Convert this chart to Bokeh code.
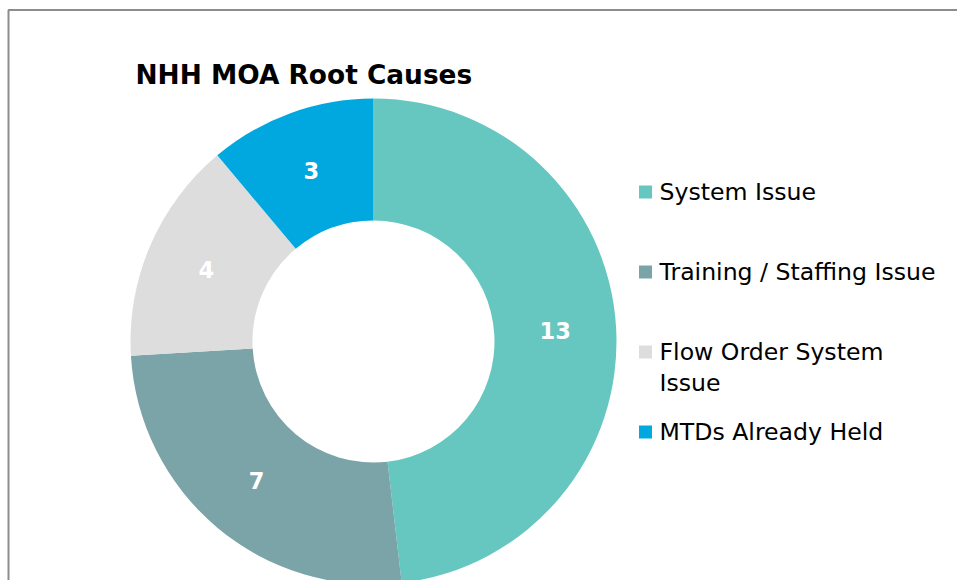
import math
from bokeh.plotting import figure
from bokeh.models import Range1d, ColumnDataSource
from bokeh.core.properties import value
from bokeh.embed import file_html
from bokeh.resources import INLINE

chart_title = "NHH MOA Root Causes"
categories = ["System Issue", "Training / Staffing Issue", "Flow Order System\nIssue", "MTDs Already Held"]
counts = [13, 7, 4, 3]
colors = ["#66C7C1", "#7BA4A9", "#DDDDDD", "#00A8DF"]

W, H = 957, 580
FONT = "DejaVu Sans"

p = figure(width=W, height=H, output_backend="svg", toolbar_location=None,
           x_range=Range1d(0, W), y_range=Range1d(0, H), min_border=0,
           x_axis_location=None, y_axis_location=None)
p.grid.visible = False
p.outline_line_color = None
p.background_fill_color = "white"
p.border_fill_color = "white"

# chart-area border (left and top edges visible)
p.line(x=[8, 8, W], y=[0, H - 9.5, H - 9.5], line_color="#8c8c8c", line_width=2)

# donut geometry (1 data unit = 1 px)
cx, cy = 373, 239
r_out, r_in = 243, 121
total = sum(counts)
starts, ends, mids = [], [], []
cum = 0
for c in counts:
    a0 = math.pi / 2 - 2 * math.pi * cum / total
    cum += c
    a1 = math.pi / 2 - 2 * math.pi * cum / total
    starts.append(a0)
    ends.append(a1)
    mids.append((a0 + a1) / 2)

r_lab = (r_out + r_in) / 2
src = ColumnDataSource(dict(
    start=starts, end=ends, color=colors, count=[str(c) for c in counts],
    lx=[cx + r_lab * math.cos(m) for m in mids],
    ly=[cy + r_lab * math.sin(m) for m in mids],
))
p.annular_wedge(x=cx, y=cy, inner_radius=r_in, outer_radius=r_out,
                start_angle="start", end_angle="end", direction="clock",
                color="color", line_color=None, source=src)
p.text(x="lx", y="ly", text="count", source=src, text_align="center",
       text_baseline="middle", text_color="white", text_font=value(FONT),
       text_font_style="bold", text_font_size="22.5px")

# title
p.text(x=[135], y=[506], text=[chart_title], text_align="left",
       text_baseline="alphabetic", text_color="black", text_font=value(FONT),
       text_font_style="bold", text_font_size="26.4px")

# legend
n = len(categories)
leg_sq_x = 645
leg_tx = 659
leg_y0 = H - 191.5
leg_step = 80
leg = ColumnDataSource(dict(
    sx=[leg_sq_x] * n,
    sy=[leg_y0 - leg_step * i for i in range(n)],
    tx=[leg_tx] * n,
    ty=[leg_y0 - leg_step * i + 14 for i in range(n)],
    label=categories, color=colors,
))
p.scatter(x="sx", y="sy", marker="square", size=13, color="color",
          line_color=None, source=leg)
p.text(x="tx", y="ty", text="label", source=leg, text_align="left",
       text_baseline="top", text_color="black", text_font=value(FONT),
       text_font_size="23.6px", text_line_height=1.12)

open("out.html", "w").write(file_html(p, INLINE))
